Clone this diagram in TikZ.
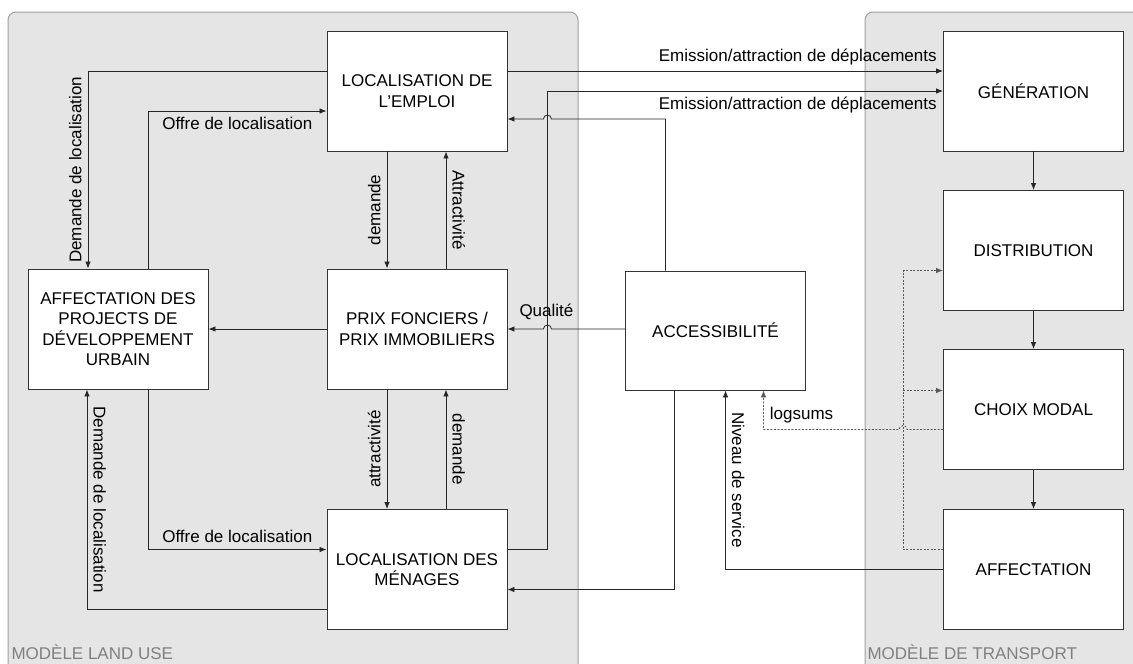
\documentclass[tikz,border=0pt]{standalone}
\usepackage{fontspec}
\setmainfont{Liberation Sans}
\usepackage{tikz}
\usetikzlibrary{arrows.meta}

\begin{document}
\begin{tikzpicture}[x=1pt, y=-1pt,
		font=\fontsize{17}{20.5}\selectfont,
		>={Latex[length=7pt,width=5.5pt]},
		panel/.style={draw=gray!75, fill=gray!20, line width=1pt, rounded corners=8pt},
		paneltitle/.style={anchor=west, text=gray},
		modelbox/.style={draw=black!80, fill=white, line width=0.9pt, minimum width=180pt, minimum height=120pt, align=center, inner sep=0pt},
		link/.style={draw=black!85, line width=0.8pt},
		dashlink/.style={draw=black!65, line width=0.8pt, dash pattern=on 2pt off 1.5pt},
		lbl/.style={inner sep=6pt}]
			\useasboundingbox (0,0) rectangle (1133,664);
			\clip (0,0) rectangle (1133,664);
			\path[panel] (8,670) -- (8,12) -- (578,12) -- (578,670);
			\path[panel] (865,670) -- (865,12) -- (1145,12) -- (1145,670);
			\node[paneltitle] (landuse) at (8,652) {MODÈLE LAND USE};
			\node[paneltitle] (transport) at (864,652) {MODÈLE DE TRANSPORT};

			\node[modelbox] (emploi) at (417,91) {LOCALISATION DE\\L’EMPLOI};
			\node[modelbox] (projets) at (118,329) {AFFECTATION DES\\PROJECTS DE\\DÉVELOPPEMENT\\URBAIN};
			\node[modelbox] (prix) at (417,329) {PRIX FONCIERS /\\PRIX IMMOBILIERS};
			\node[modelbox] (menages) at (417,569.5) {LOCALISATION DES\\MÉNAGES};
			\node[modelbox, minimum height=119pt] (access) at (715.5,330.5) {ACCESSIBILITÉ};
			\node[modelbox] (generation) at (1033.5,91) {GÉNÉRATION};
			\node[modelbox] (distribution) at (1033.5,250.5) {DISTRIBUTION};
			\node[modelbox] (choix) at (1033.5,409.5) {CHOIX MODAL};
			\node[modelbox] (affectation) at (1033.5,569.5) {AFFECTATION};
			\coordinate (riser) at (547,91);
			\coordinate (tap) at ([xshift=-40pt,yshift=19pt]choix.west);

			\draw[link, ->] ([yshift=20pt]emploi.west) -| node[lbl, pos=0.75, rotate=90, anchor=south] {Demande de localisation} ([xshift=-30pt]projets.north);
			\draw[link, ->] ([xshift=30pt]projets.north) |- node[lbl, pos=0.75, below] {Offre de localisation} ([yshift=-20pt]emploi.west);
			\draw[link, ->] ([xshift=-30pt]emploi.south) -- node[lbl, midway, rotate=90, anchor=south] {demande} ([xshift=-30pt]prix.north);
			\draw[link, ->] ([xshift=29pt]prix.north) -- node[lbl, midway, rotate=-90, anchor=south] {Attractivité} ([xshift=29pt]emploi.south);
			\draw[link, ->] (prix.west) -- (projets.east);
			\draw[link, ->] ([xshift=-30pt]prix.south) -- node[lbl, midway, rotate=90, anchor=south] {attractivité} ([xshift=-30pt]menages.north);
			\draw[link, ->] ([xshift=29pt]menages.north) -- node[lbl, midway, rotate=-90, anchor=south] {demande} ([xshift=29pt]prix.south);
			\draw[link, ->] ([xshift=30pt]projets.south) |- node[lbl, pos=0.75, above] {Offre de localisation} ([yshift=20pt]menages.west);
			\draw[link, ->] ([yshift=-40pt]menages.west) -| node[lbl, pos=0.75, rotate=-90, anchor=south] {Demande de localisation} ([xshift=-31pt]projets.south);

			\draw[link, ->] ([yshift=20pt]emploi.east) -- node[lbl, pos=1, above left] {Emission/attraction de déplacements} ([yshift=20pt]generation.west);
			\draw[link, ->] ([yshift=20pt]menages.east) -| (riser) -- node[lbl, pos=1, below left] {Emission/attraction de déplacements} (generation.west);
			\draw[link, ->] ([xshift=-50pt]access.north) |- ([xshift=44pt,yshift=-28pt]emploi.east) arc[start angle=0, end angle=180, radius=4pt] -- ([yshift=-28pt]emploi.east);
			\draw[link, ->] (access.west |- prix.east) -- node[pos=1, above=6pt, xshift=-5pt] {Qualité} ([xshift=44pt]prix.east) arc[start angle=0, end angle=180, radius=4pt] -- (prix.east);
			\draw[link, ->] ([xshift=-41pt]access.south) |- ([yshift=-20pt]menages.east);
			\draw[link, ->] (affectation.west) -| node[lbl, pos=0.75, rotate=-90, anchor=south] {Niveau de service} ([xshift=10pt]access.south);

			\draw[dashlink, ->] ([yshift=-20pt]choix.west) -- ([xshift=-36pt,yshift=-20pt]choix.west) arc[start angle=0, end angle=180, radius=4pt] -| node[lbl, pos=0.5, above right] {logsums} ([xshift=48pt]access.south);
			\draw[dashlink, ->] ([yshift=20pt]affectation.west) -| ([xshift=-40pt,yshift=-20pt]distribution.west) -- ([yshift=-20pt]distribution.west);
			\draw[dashlink, ->] (tap) -- (tap -| choix.west);

			\draw[link, ->] (generation) -- (distribution);
			\draw[link, ->] (distribution) -- (choix);
			\draw[link, ->] (choix) -- (affectation);
		\end{tikzpicture}
\end{document}
